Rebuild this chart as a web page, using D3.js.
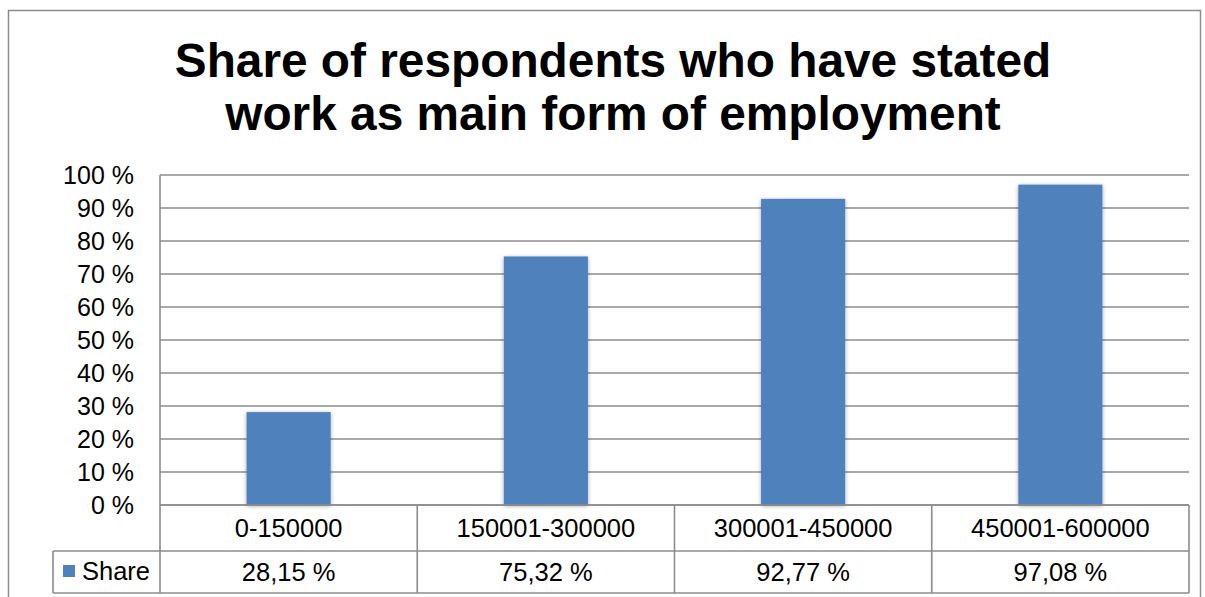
<!DOCTYPE html>
<html>
<head>
<meta charset="utf-8">
<script src="https://cdn.jsdelivr.net/npm/d3@7"></script>
<style>
  html, body { margin: 0; padding: 0; background: #fff; }
  svg { display: block; }
  text { font-family: "Liberation Sans", Arial, sans-serif; fill: #000; }
</style>
</head>
<body>
<svg id="chart" width="1205" height="597"></svg>
<script>
// Income brackets and share of respondents stating work as main employment
const categories = ["0-150000", "150001-300000", "300001-450000", "450001-600000"];
const shareValues = [28.15, 75.32, 92.77, 97.08];
const seriesName = "Share";
const yTicks = [0, 10, 20, 30, 40, 50, 60, 70, 80, 90, 100];
const titleLines = ["Share of respondents who have stated", "work as main form of employment"];

const svg = d3.select("#chart");

const plot = { left: 160, right: 1189, top: 175, bottom: 505 };
const tableRow1 = 551, tableBottom = 593, legendLeft = 53;
const gridColor = "#8c8c8c";
const barColor = "#4F81BD";

// Outer chart frame
svg.append("rect")
  .attr("x", 8.5).attr("y", 10.5)
  .attr("width", 1192).attr("height", 620)
  .attr("fill", "none").attr("stroke", "#8c8c8c").attr("stroke-width", 1.5);

// Title
const title = svg.append("text")
  .attr("text-anchor", "middle")
  .style("font-weight", "bold").style("font-size", "47.8px");
titleLines.forEach((t, i) => {
  title.append("tspan").attr("x", 613).attr("y", 77 + i * 53).text(t);
});

const x = d3.scaleBand().domain(categories).range([plot.left, plot.right]).paddingInner(0.673).paddingOuter(0.3365);
const xCat = d3.scaleBand().domain(categories).range([plot.left, plot.right]);
const y = d3.scaleLinear().domain([0, 100]).range([plot.bottom, plot.top]);

// Gridlines
svg.append("g").selectAll("line").data(yTicks).join("line")
  .attr("x1", plot.left).attr("x2", plot.right)
  .attr("y1", d => y(d)).attr("y2", d => y(d))
  .attr("stroke", gridColor).attr("stroke-width", 1.6);

// Y axis labels
const yAxis = d3.axisLeft(y).tickValues(yTicks).tickSize(0).tickPadding(0)
  .tickFormat(d => d + " %");
const yg = svg.append("g").attr("transform", `translate(${plot.left - 26},0)`).call(yAxis);
yg.select(".domain").remove();
yg.selectAll("text").style("font-size", "25px").style("font-family", '"Liberation Sans", Arial, sans-serif').attr("fill", "#000").attr("dy", "0.35em");

// Bar shadow filter
const defs = svg.append("defs");
const f = defs.append("filter").attr("id", "shadow").attr("x", "-20%").attr("y", "-20%").attr("width", "140%").attr("height", "140%");
f.append("feGaussianBlur").attr("in", "SourceAlpha").attr("stdDeviation", 2.2).attr("result", "b");
f.append("feOffset").attr("in", "b").attr("dx", 0).attr("dy", 1).attr("result", "o");
f.append("feComponentTransfer").attr("in", "o").attr("result", "s")
  .append("feFuncA").attr("type", "linear").attr("slope", 0.35);
const m = f.append("feMerge");
m.append("feMergeNode").attr("in", "s");
m.append("feMergeNode").attr("in", "SourceGraphic");

// Bars
svg.append("g").selectAll("rect").data(categories).join("rect")
  .attr("x", d => x(d))
  .attr("width", x.bandwidth())
  .attr("y", (d, i) => y(shareValues[i]))
  .attr("height", (d, i) => y(0) - y(shareValues[i]))
  .attr("fill", barColor)
  .attr("filter", "url(#shadow)");

// Data table grid
const tg = svg.append("g").attr("stroke", gridColor).attr("stroke-width", 1.6);
tg.append("line").attr("x1", plot.left).attr("x2", plot.left).attr("y1", plot.top).attr("y2", tableBottom);
tg.append("line").attr("x1", plot.left).attr("x2", plot.right).attr("y1", plot.bottom).attr("y2", plot.bottom);
tg.append("line").attr("x1", legendLeft).attr("x2", plot.right).attr("y1", tableRow1).attr("y2", tableRow1);
tg.append("line").attr("x1", legendLeft).attr("x2", plot.right).attr("y1", tableBottom).attr("y2", tableBottom);
tg.append("line").attr("x1", legendLeft).attr("x2", legendLeft).attr("y1", tableRow1).attr("y2", tableBottom);
tg.selectAll("line.col").data(categories).join("line").attr("class", "col")
  .attr("x1", d => xCat(d) + xCat.bandwidth()).attr("x2", d => xCat(d) + xCat.bandwidth())
  .attr("y1", plot.bottom).attr("y2", tableBottom);

// Category labels
svg.append("g").selectAll("text").data(categories).join("text")
  .attr("x", d => xCat(d) + xCat.bandwidth() / 2)
  .attr("y", 537).attr("text-anchor", "middle").style("font-size", "25.5px")
  .text(d => d);

// Value labels
const fmt = v => v.toFixed(2).replace(".", ",") + " %";
svg.append("g").selectAll("text").data(categories).join("text")
  .attr("x", d => xCat(d) + xCat.bandwidth() / 2)
  .attr("y", 581).attr("text-anchor", "middle").style("font-size", "25.5px")
  .text((d, i) => fmt(shareValues[i]));

// Legend key
svg.append("rect").attr("x", 63).attr("y", 565).attr("width", 12).attr("height", 12).attr("fill", barColor);
svg.append("text").attr("x", 82).attr("y", 580).style("font-size", "25.5px").text(seriesName);
</script>
</body>
</html>
